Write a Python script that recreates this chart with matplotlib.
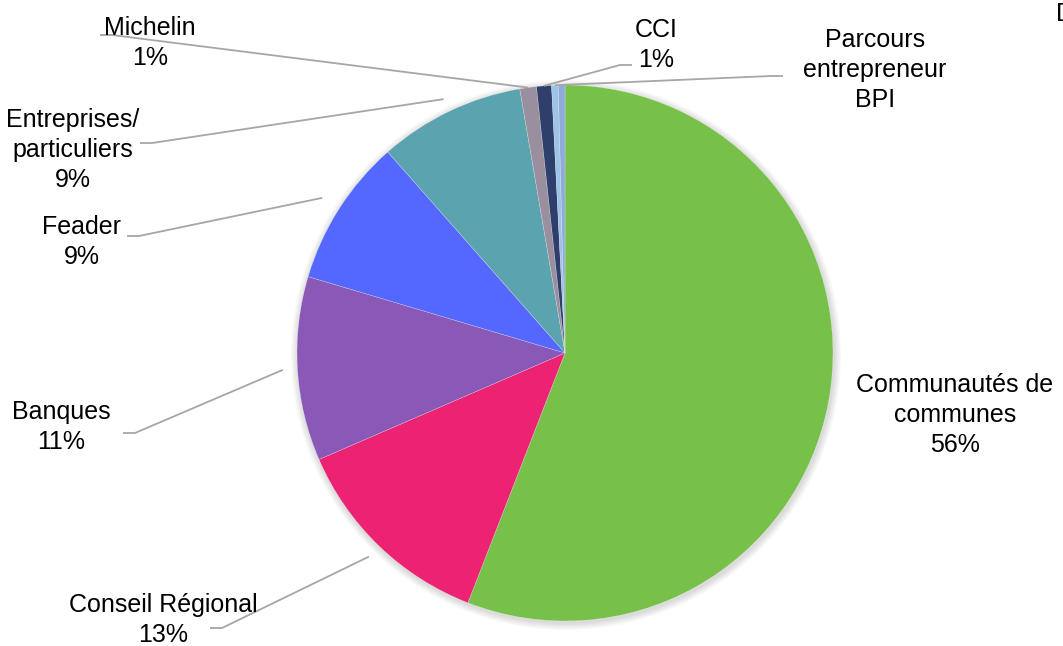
import numpy as np
import matplotlib.pyplot as plt

# data
categories = ["Communautés de\ncommunes", "Conseil Régional", "Banques", "Feader",
              "Entreprises/\nparticuliers", "Michelin", "CCI",
              "Parcours\nentrepreneur\nBPI", "D"]
values     = [55.9, 12.6, 11.1, 8.9, 8.8, 1.0, 0.9, 0.4, 0.4]
show_pct   = [True, True, True, True, True, True, True, False, False]
colors     = ["#77C14A", "#EC2272", "#8A58B6", "#5468FF", "#5BA3AE",
              "#9A8F9E", "#2E3F6B", "#9DC3E6", "#8FAADC"]

W, H = 1063, 646

# layout (pixel coords, y from top)
center_px = (565, 353)
radius    = 268
label_pos = [(955, 415), (163, 620), (61, 427), (82, 242), (73, 150),
             (150, 43), (656, 45), (875, 70), (1056, 14)]
# start of leader line near the label (None = no line)
anchor_pos = [None, (210, 628), (123, 433), (127, 236), (140, 143),
              (100, 35), (632, 65), (783, 76), None]
edge_fac   = [1.0, 1.055, 1.055, 1.075, 1.05, 1.0, 1.0, 1.0, 1.0]


def to_data(p):
    return (p[0], H - p[1])


def main():
    plt.rcParams['font.family'] = ['Liberation Sans', 'DejaVu Sans']
    fig = plt.figure(figsize=(W / 100, H / 100), dpi=100)
    ax = fig.add_axes([0, 0, 1, 1])
    ax.set_aspect('equal')

    cx, cy = to_data(center_px)

    # soft shadow
    for i in range(6):
        circ = plt.Circle((cx + 1, cy - 2), radius + 1 + i * 1.2,
                          color='black', alpha=0.025, lw=0, zorder=0)
        ax.add_patch(circ)

    wedges, _ = ax.pie(values, colors=colors, startangle=90, counterclock=False,
                       center=(cx, cy), radius=radius,
                       wedgeprops=dict(edgecolor=(1, 1, 1, 0.5), linewidth=0.3),
                       frame=True)
    ax.set_xlim(0, W)
    ax.set_ylim(0, H)
    ax.axis('off')

    total = sum(values)
    for i, w in enumerate(wedges):
        text = categories[i]
        if show_pct[i]:
            text += "\n{0}%".format(int(round(values[i] / total * 100)))
        lx, ly = to_data(label_pos[i])
        ha = 'left' if categories[i] == "D" else 'center'
        ax.text(lx, ly, text, ha=ha, va='center', multialignment='center',
                fontsize=18, linespacing=1.32, color='black', zorder=5)

        if anchor_pos[i] is None:
            continue
        mid = np.deg2rad((w.theta1 + w.theta2) / 2.0)
        r = radius * edge_fac[i]
        px, py = cx + r * np.cos(mid), cy + r * np.sin(mid)
        ax_, ay_ = to_data(anchor_pos[i])
        knee = ax_ + (12 if px > ax_ else -12)
        ax.plot([ax_, knee, px], [ay_, ay_, py], color='#A6A6A6', lw=1.3,
                solid_capstyle='butt', zorder=4)

    fig.savefig("out.png", dpi=100)
    plt.close('all')


if __name__ == "__main__":
    main()
